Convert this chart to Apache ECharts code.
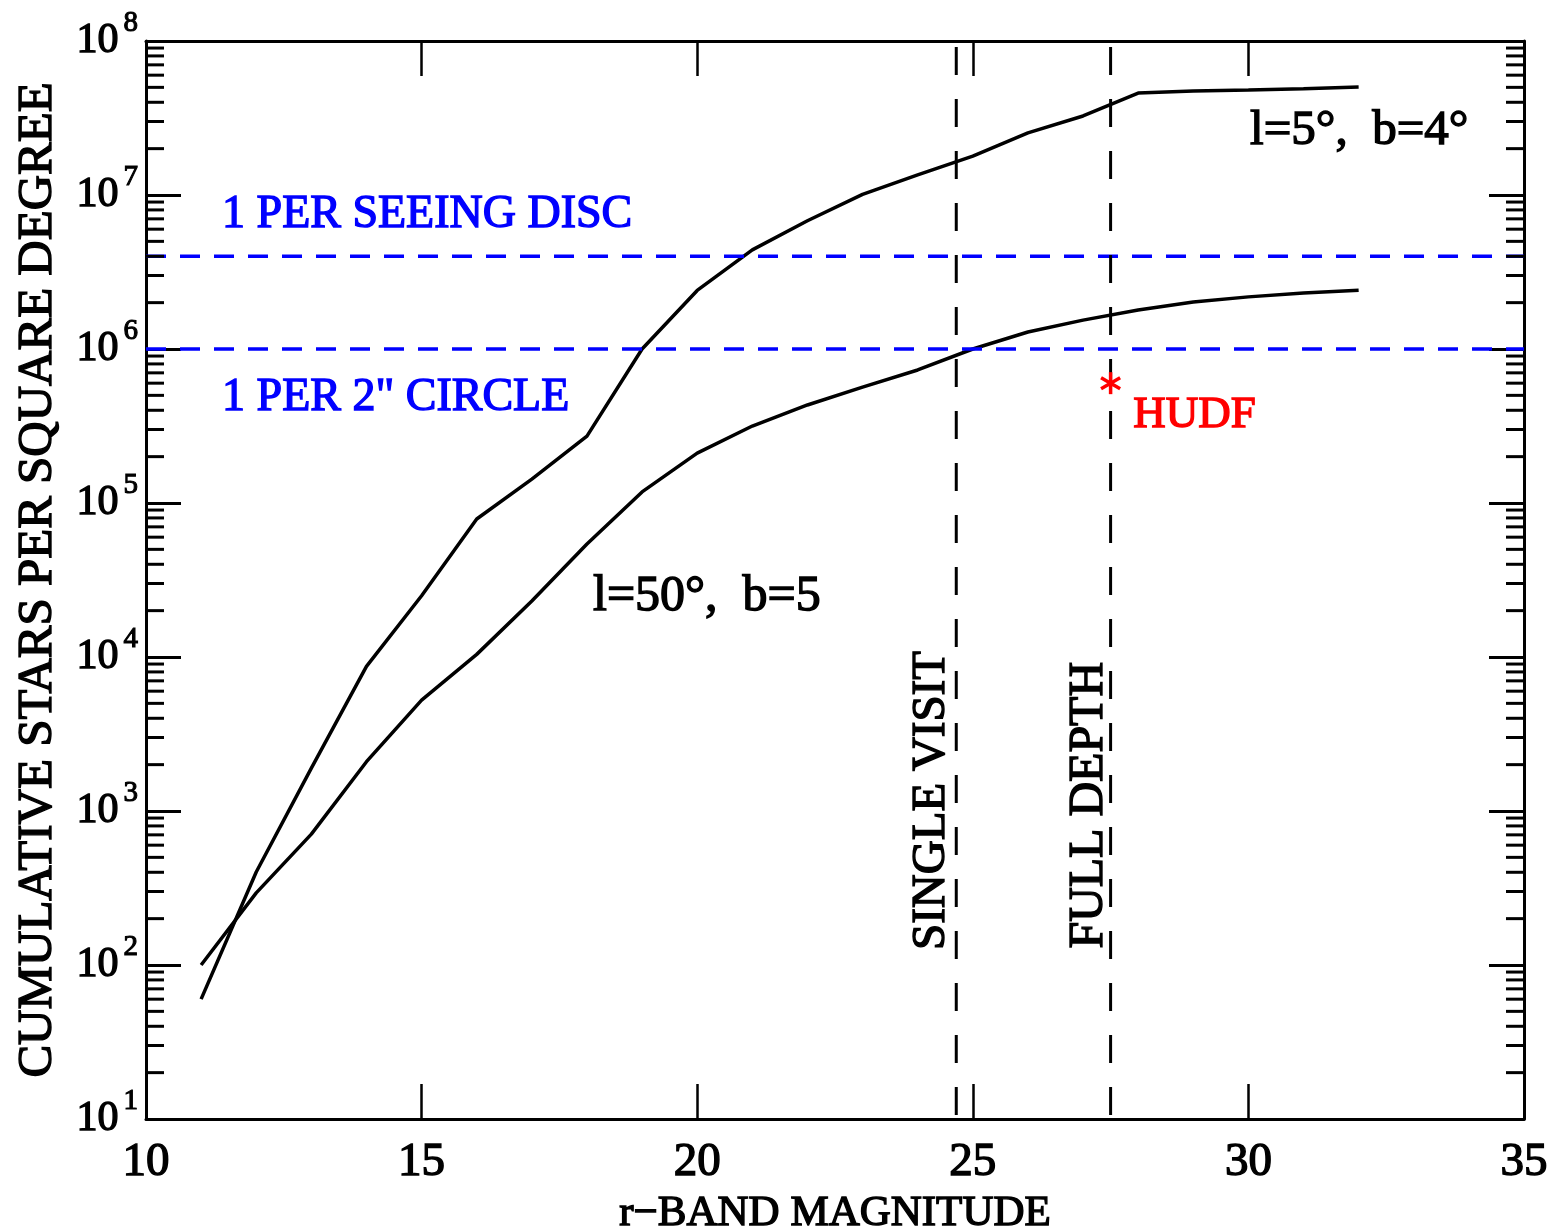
<!DOCTYPE html>
<html><head><meta charset="utf-8">
<script src="https://cdn.jsdelivr.net/npm/echarts@6/dist/echarts.min.js"></script>
<style>html,body{margin:0;padding:0;background:#fff}#c{width:1558px;height:1230px}</style>
</head><body><div id="c"></div>
<script>
// ---- data ----
const magnitudes = [11,12,13,14,15,16,17,18,19,20,21,22,23,24,25,26,27,28,29,30,31,32];
const starsL5B4 = [60,402,1900,8700,25000,78700,143000,272000,1.0e6,2.4e6,4.4e6,6.8e6,1.01e7,1.35e7,1.79e7,2.53e7,3.26e7,4.59e7,4.73e7,4.8e7,4.9e7,5.03e7];
const starsL50B5 = [100,294,708,2090,5250,10400,23100,54200,118000,211000,316000,433000,566000,731000,1.0e6,1.29e6,1.54e6,1.79e6,2.02e6,2.18e6,2.31e6,2.41e6];
const xTickValues = [10,15,20,25,30,35];
const yDecadeExponents = [1,2,3,4,5,6,7,8];
const singleVisitMag = 24.7;
const fullDepthMag = 27.5;
const seeingDiscDensity = 4.0e6;
const circle2Density = 1.0e6;
const hudfPoint = [27.5, 6.0e5];
const minorMantissas = [2,3,4,5,6,7,8,9];

const minorTickValues = [];
yDecadeExponents.slice(0, -1).forEach(e => minorMantissas.forEach(m => minorTickValues.push(m * Math.pow(10, e))));

const FONT = 'Liberation Serif';
const txt = (color, size, bw) => ({color, fontFamily: FONT, fontSize: size, textBorderColor: color, textBorderWidth: bw == null ? 1.4 : bw, opacity: 1});

const chart = echarts.init(document.getElementById('c'), null, {renderer: 'canvas'});
const axisLineStyle = {show: true, onZero: false, lineStyle: {color: '#000', width: 3}};

const option = {
  backgroundColor: '#fff',
  animation: false,
  grid: {left: 146, top: 41, right: 34, bottom: 111, containLabel: false, outerBoundsMode: 'none'},
  xAxis: [
    {type: 'value', min: 10, max: 35, interval: 5, position: 'bottom',
     axisLine: axisLineStyle,
     axisTick: {inside: true, length: 35, lineStyle: {color: '#000', width: 2.5}},
     axisLabel: Object.assign({margin: 20, showMinLabel: true, showMaxLabel: true}, txt('#000', 47)),
     splitLine: {show: false},
     name: 'r\u2212BAND MAGNITUDE', nameLocation: 'middle', nameGap: 58,
     nameTextStyle: txt('#000', 43)},
    {type: 'value', min: 10, max: 35, interval: 5, position: 'top',
     axisLine: axisLineStyle,
     axisTick: {inside: true, length: 35, lineStyle: {color: '#000', width: 2.5}},
     axisLabel: {show: false}, splitLine: {show: false}}
  ],
  yAxis: [
    {type: 'log', logBase: 10, min: 10, max: 1e8, splitNumber: 7, position: 'left',
     axisLine: axisLineStyle,
     axisTick: {inside: true, length: 35, lineStyle: {color: '#000', width: 3}},
     axisLabel: {margin: 8, showMinLabel: true, showMaxLabel: true,
       formatter: v => '{b|10}{s|' + Math.round(Math.log10(v)) + '}',
       rich: {
         b: Object.assign({verticalAlign: 'middle', lineHeight: 65}, txt('#000', 42)),
         s: Object.assign({verticalAlign: 'top', lineHeight: 29, padding: [0, 0, 0, 5]}, txt('#000', 29, 1.1))
       }},
     splitLine: {show: false},
     name: 'CUMULATIVE STARS PER SQUARE DEGREE', nameLocation: 'middle', nameGap: 83,
     nameTextStyle: txt('#000', 49)},
    {type: 'log', logBase: 10, min: 10, max: 1e8, splitNumber: 7, position: 'right',
     axisLine: axisLineStyle,
     axisTick: {inside: true, length: 35, lineStyle: {color: '#000', width: 3}},
     axisLabel: {show: false}, splitLine: {show: false}}
  ],
  series: [
    {type: 'line', name: 'l5b4', symbol: 'none', data: magnitudes.map((m, i) => [m, starsL5B4[i]]),
     lineStyle: {color: '#000', width: 3.5}, z: 3},
    {type: 'line', name: 'l50b5', symbol: 'none', data: magnitudes.map((m, i) => [m, starsL50B5[i]]),
     lineStyle: {color: '#000', width: 3.5}, z: 3},
    {type: 'line', symbol: 'none', data: [[10, seeingDiscDensity], [35, seeingDiscDensity]],
     lineStyle: {color: '#0000ff', width: 3.5, type: [20, 14]}, z: 4},
    {type: 'line', symbol: 'none', data: [[10, circle2Density], [35, circle2Density]],
     lineStyle: {color: '#0000ff', width: 3.5, type: [20, 14]}, z: 4},
    {type: 'line', symbol: 'none', data: [[singleVisitMag, 10], [singleVisitMag, 1e8]],
     lineStyle: {color: '#000', width: 3, type: [28, 24], dashOffset: -4}, z: 4},
    {type: 'line', symbol: 'none', data: [[fullDepthMag, 10], [fullDepthMag, 1e8]],
     lineStyle: {color: '#000', width: 3, type: [28, 24], dashOffset: -4}, z: 4},
    {type: 'custom', silent: true, clip: false, z: 5,
     data: minorTickValues.map(v => [10, v]),
     encode: {x: 0, y: 1},
     renderItem: (params, api) => {
       const v = api.value(1);
       const L = api.coord([10, v]);
       const R = api.coord([35, v]);
       return {type: 'group', children: [
         {type: 'line', shape: {x1: L[0], y1: L[1], x2: L[0] + 18, y2: L[1]}, style: {stroke: '#000', lineWidth: 3}},
         {type: 'line', shape: {x1: R[0] - 18, y1: R[1], x2: R[0], y2: R[1]}, style: {stroke: '#000', lineWidth: 3}}
       ]};
     }},
    {type: 'custom', silent: true, clip: false, z: 6,
     data: [hudfPoint],
     encode: {x: 0, y: 1},
     renderItem: (params, api) => {
       const c = api.coord([api.value(0), api.value(1)]);
       const r = 11;
       return {type: 'group', children: [90, 30, 150].map(deg => {
         const a = deg * Math.PI / 180;
         return {type: 'line', shape: {x1: c[0] - r * Math.cos(a), y1: c[1] - r * Math.sin(a), x2: c[0] + r * Math.cos(a), y2: c[1] + r * Math.sin(a)},
                 style: {stroke: '#ff0000', lineWidth: 3.5}};
       })};
     }},
    {type: 'scatter', symbolSize: 0, silent: true, z: 7,
     itemStyle: {opacity: 1},
     label: {show: true, position: 'right', distance: 0, opacity: 1},
     data: [
       {value: [11.38, 7.4e6], label: Object.assign({formatter: '1 PER SEEING DISC'}, txt('#0000ff', 46))},
       {value: [11.38, 4.8e5], label: Object.assign({formatter: '1 PER 2" CIRCLE'}, txt('#0000ff', 46))},
       {value: [30.03, 2.6e7], label: Object.assign({formatter: 'l=5\u00b0,  b=4\u00b0'}, txt('#000', 49))},
       {value: [18.11, 2.45e4], label: Object.assign({formatter: 'l=50\u00b0,  b=5'}, txt('#000', 50))},
       {value: [27.91, 3.7e5], label: Object.assign({formatter: 'HUDF'}, txt('#ff0000', 45))},
       {value: [24.26, 1170], label: Object.assign({formatter: 'SINGLE VISIT', position: 'inside', rotate: 90, align: 'center', verticalAlign: 'middle'}, txt('#000', 47))},
       {value: [27.11, 1090], label: Object.assign({formatter: 'FULL DEPTH', position: 'inside', rotate: 90, align: 'center', verticalAlign: 'middle'}, txt('#000', 48))}
     ]}
  ]
};
chart.setOption(option);
</script></body></html>
